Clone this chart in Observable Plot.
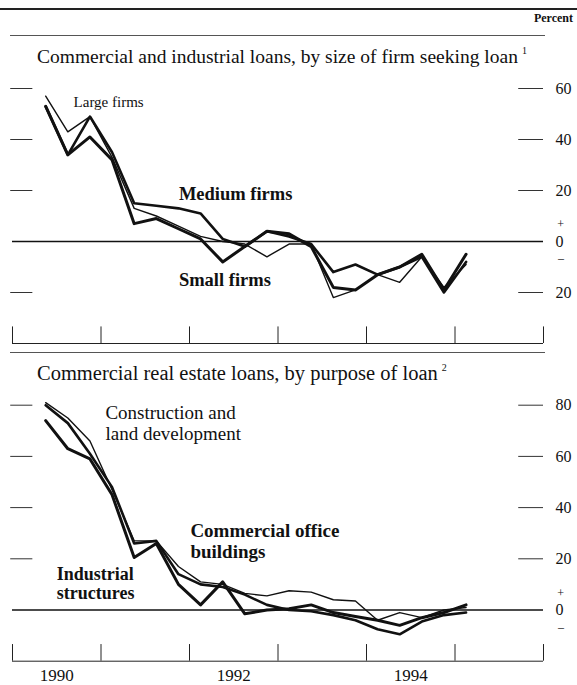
<!DOCTYPE html>
<html>
<head>
<meta charset="utf-8">
<script src="https://cdn.jsdelivr.net/npm/d3@7"></script>
<script src="https://cdn.jsdelivr.net/npm/@observablehq/plot@0.6"></script>
<style>
  html, body { margin: 0; padding: 0; background: #fff; }
  #wrap { position: relative; width: 577px; height: 685px; overflow: hidden; font-family: "Liberation Serif", "DejaVu Serif", serif; color: #111; }
  .abs { position: absolute; }
  .rule { position: absolute; background: #222; }
  .title { position: absolute; left: 37px; font-size: 19.5px; white-space: nowrap; }
  .title sup { font-size: 10px; vertical-align: 9px; margin-left: 4px; }
  #percent { position: absolute; right: 4px; top: 11px; font-size: 12px; font-weight: bold; }
  svg { overflow: visible; }
</style>
</head>
<body>
<div id="wrap">
  <div class="rule" style="left:0;top:8px;width:577px;height:1.5px;"></div>
  <div id="percent">Percent</div>
  <div class="rule" style="left:10px;top:35px;width:535px;height:1px;background:#555;"></div>
  <div class="title" style="top:45px;">Commercial and industrial loans, by size of firm seeking loan<sup>1</sup></div>
  <div id="p1" class="abs" style="left:0;top:60px;"></div>
  <div class="rule" style="left:10px;top:352px;width:535px;height:1px;background:#555;"></div>
  <div class="title" style="top:362px;font-size:20.5px;">Commercial real estate loans, by purpose of loan<sup>2</sup></div>
  <div id="p2" class="abs" style="left:0;top:380px;"></div>
</div>
<script>
// Survey dates (quarterly, fractional years)
const surveyDates = [1990.375, 1990.625, 1990.875, 1991.125, 1991.375, 1991.625, 1991.875, 1992.125,
  1992.375, 1992.625, 1992.875, 1993.125, 1993.375, 1993.625, 1993.875, 1994.125,
  1994.375, 1994.625, 1994.875, 1995.125];

// Commercial and industrial loans (net percent tightening)
const largeFirms  = [57, 43, 49, 33, 13, 10, 6, 2, 0, -1, -6, -1, -1, -22, -19, -13, -16, -6, -18, -9];
const mediumFirms = [53, 34, 49, 35, 15, 14, 13, 11, 1, -2, 4, 2, -1, -12, -9, -13, -10, -6, -20, -8];
const smallFirms  = [53, 34, 41, 32, 7, 9, 5, 1, -8, -2, 4, 3, -2, -18, -19, -13, -10, -5, -19, -5];

// Commercial real estate loans
const construction    = [81, 75, 66, 47, 27, 27, 17, 11, 10, 6.5, 5.5, 7.5, 7, 4, 3.5, -4, -1, -3, 0, 1];
const officeBuildings = [80, 73, 61, 48, 26, 27, 14, 10, 9, 6, 2, 0, -0.5, -2, -4, -7.5, -9.5, -4.5, -2, -1];
const industrial      = [74, 63, 59, 45, 20.5, 26, 10, 2, 11, -1.5, 0, 0.5, 2, -1, -2.5, -4, -6, -3, -1, 2];

// Axes
const xDomain = [1990, 1996];
const yearTicks = [1990, 1991, 1992, 1993, 1994, 1995, 1996];
const yearLabels = [1990.5, 1992.5, 1994.5];
const topDomain = [-40, 65];
const topTicks = [60, 40, 20, 0, -20];
const bottomDomain = [-20, 85];
const bottomTicks = [80, 60, 40, 20, 0];

// Label annotations
const topLabels = [
  {x: 1990.69, y: 55, text: "Large firms", weight: "normal", size: 15},
  {x: 1991.88, y: 19, text: "Medium firms", weight: "bold", size: 18.5},
  {x: 1991.88, y: -15, text: "Small firms", weight: "bold", size: 18.5}
];
const bottomLabels = [
  {x: 1991.05, y: 73, text: "Construction and\nland development", weight: "normal", size: 19},
  {x: 1992.01, y: 27, text: "Commercial office\nbuildings", weight: "bold", size: 19},
  {x: 1990.50, y: 10.5, text: "Industrial\nstructures", weight: "bold", size: 18}
];

function rows(values) { return surveyDates.map((d, i) => ({date: d, value: values[i]})); }

function panel({height, marginTop, marginBottom, yDomain, ticks, series, labels, showYears}) {
  const nonZero = ticks.filter(t => t !== 0);
  const marks = [
    Plot.ruleY([0], {stroke: "#111", strokeWidth: 1.6}),
    Plot.ruleY([yDomain[0]], {stroke: "#222", strokeWidth: 1}),
    Plot.ruleX(yearTicks, {y1: yDomain[0], y2: yDomain[0] + 6.5, stroke: "#222", strokeWidth: 1}),
    Plot.ruleY(nonZero, {x1: xDomain[0] - 0.02, x2: xDomain[0] + 0.23, stroke: "#333", strokeWidth: 1}),
    Plot.ruleY(nonZero, {x1: xDomain[1] - 0.28, x2: xDomain[1], stroke: "#333", strokeWidth: 1}),
    Plot.axisY({anchor: "right", ticks, tickSize: 0, tickPadding: 12, tickFormat: d => String(Math.abs(d)),
      fontSize: 16, fontFamily: "Liberation Serif", fill: "#111"}),
    Plot.text([{y: 0, t: "+"}, {y: 0, t: "\u2013"}], {y: "y", text: "t", frameAnchor: "right",
      dx: 20.5, fontSize: 12, fontFamily: "Liberation Serif", fill: "#111"}),
  ];
  for (const s of series) {
    marks.push(Plot.line(rows(s.values), {x: "date", y: "value", stroke: "#111", strokeWidth: s.width, strokeLinejoin: "round"}));
  }
  for (const l of labels) {
    marks.push(Plot.text([l], {x: "x", y: "y", text: "text", textAnchor: "start", lineAnchor: "middle",
      fontSize: l.size, fontWeight: l.weight, fontFamily: "Liberation Serif", fill: "#111", lineHeight: 1.1}));
  }
  if (showYears) {
    marks.push(Plot.axisX({anchor: "bottom", ticks: yearLabels, tickSize: 0, tickPadding: 8,
      tickFormat: d => String(Math.floor(d)), fontSize: 17, fontFamily: "Liberation Serif", fill: "#111"}));
  }
  return Plot.plot({
    width: 577, height, marginLeft: 12, marginRight: 34, marginTop, marginBottom,
    x: {domain: xDomain, axis: null},
    y: {domain: yDomain, axis: null},
    style: {fontFamily: "Liberation Serif", color: "#111", background: "transparent"},
    marks
  });
}

const p1 = panel({height: 288, marginTop: 15.25, marginBottom: 5, yDomain: topDomain, ticks: topTicks,
  series: [{values: largeFirms, width: 1.4}, {values: mediumFirms, width: 2.6}, {values: smallFirms, width: 3}],
  labels: topLabels, showYears: false});
document.getElementById("p1").appendChild(p1);

const p2 = panel({height: 305, marginTop: 11.9, marginBottom: 24.3, yDomain: bottomDomain, ticks: bottomTicks,
  series: [{values: construction, width: 1.4}, {values: officeBuildings, width: 2.6}, {values: industrial, width: 3}],
  labels: bottomLabels, showYears: true});
document.getElementById("p2").appendChild(p2);

// place "+" above and "–" below the zero label
document.querySelectorAll("svg").forEach(svg => {
  const texts = [...svg.querySelectorAll("text")].filter(t => t.textContent === "+" || t.textContent === "\u2013");
  texts.forEach(t => {
    const dy = t.textContent === "+" ? -17 : 17;
    t.setAttribute("transform", (t.getAttribute("transform") || "") + ` translate(0,${dy})`);
  });
});
</script>
</body>
</html>
